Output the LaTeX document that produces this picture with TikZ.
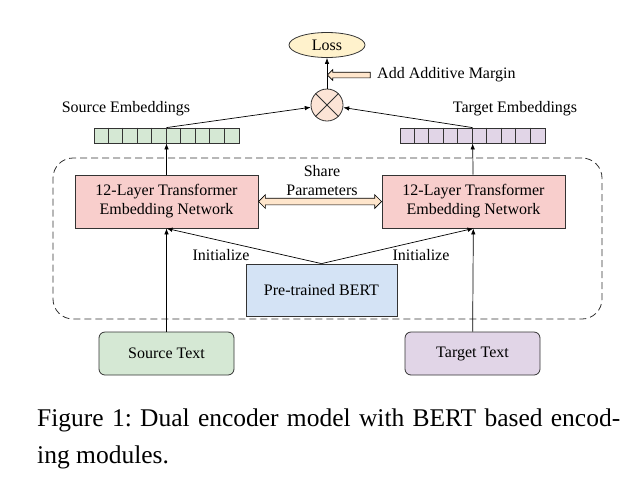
\documentclass[tikz,border=0pt]{standalone}
\usepackage{fontspec}
\setmainfont{Liberation Serif}
\usetikzlibrary{arrows.meta,shapes.geometric,shapes.arrows,calc}
\definecolor{cgreen}{HTML}{D5E8D4}
\definecolor{cpurple}{HTML}{E1D5E7}
\definecolor{cred}{HTML}{F8CECC}
\definecolor{cblue}{HTML}{D4E3F5}
\definecolor{cyellow}{HTML}{FFF2CC}
\definecolor{cpeach}{HTML}{FFE6CC}
\definecolor{ccirc}{HTML}{FCE4D6}
\definecolor{cline}{HTML}{333333}
\frenchspacing
\begin{document}
\begin{tikzpicture}[x=1pt,y=-1pt,
  every node/.style={font=\fontsize{16}{19}\selectfont},
  box/.style={draw=cline, line width=0.8pt, inner sep=0pt, align=center},
  arr/.style={-{Latex[length=6pt,width=4.5pt]}, line width=0.7pt, draw=black},
  fatarrow/.style={draw=black, line width=0.7pt, fill=cpeach, inner sep=0pt},
  lbl/.style={inner sep=0pt, align=center},
]
\useasboundingbox (0,0) rectangle (642,491);
% frame
\node[draw=cline, line width=0.8pt, dash pattern=on 7pt off 4pt, rounded corners=20pt,
  minimum width=549pt, minimum height=161pt, inner sep=0pt] (frame) at (327.5,238.5) {};
% top
\node[box, ellipse, fill=cyellow, minimum width=76pt, minimum height=25pt] (loss) at (327,45) {Loss};
\node[box, circle, fill=ccirc, minimum size=32pt] (circ) at (327,105) {};
\draw[cline, line width=0.8pt] (circ.north west) -- (circ.south east) (circ.north east) -- (circ.south west);
\node[lbl, anchor=west] (marg) at (377,75) {Add Additive Margin};
\coordinate (mstart) at (372,75);
\coordinate (mend) at (328.5,75);
% embeddings
\node[lbl] (slab) at (126,109) {Source Embeddings};
\node[lbl] (tlab) at (515,109) {Target Embeddings};
\node[box, fill=cgreen, minimum width=145pt, minimum height=15pt] (sbar) at (166.5,135.5) {};
\node[box, fill=cpurple, minimum width=145pt, minimum height=15pt] (tbar) at (472.5,135.5) {};
\foreach \i in {1,...,9}{
  \draw[cline, line width=0.8pt] ($(sbar.north west)+(\i*14.5,0)$) -- ($(sbar.south west)+(\i*14.5,0)$);
  \draw[cline, line width=0.8pt] ($(tbar.north west)+(\i*14.5,0)$) -- ($(tbar.south west)+(\i*14.5,0)$);
}
% encoders
\node[box, fill=cred, minimum width=183pt, minimum height=53pt] (sred) at (166.5,201.5) {12-Layer Transformer\\Embedding Network};
\node[box, fill=cred, minimum width=183pt, minimum height=53pt] (tred) at (473.5,201.5) {12-Layer Transformer\\Embedding Network};
\node[lbl] (share) at (322,181) {Share\\Parameters};
\node[box, fill=cblue, minimum width=151pt, minimum height=52pt] (bert) at (321.5,290) {Pre-trained BERT};
\node[lbl] (initl) at (221,255) {Initialize};
\node[lbl] (initr) at (421,255) {Initialize};
% inputs
\node[box, fill=cgreen, rounded corners=6pt, minimum width=135pt, minimum height=43pt] (stext) at (166.5,353.5) {Source Text};
\node[box, fill=cpurple, rounded corners=6pt, minimum width=135pt, minimum height=43pt] (ttext) at (472.5,353.5) {Target Text};
% connectors
\draw[arr] (stext) -- (sred);
\draw[arr] (ttext) -- (tred);
\draw[arr] (sred) -- (sbar);
\draw[arr] (tred) -- (tbar);
\draw[arr] (sbar.north) -- (circ);
\draw[arr] (tbar.north) -- (circ);
\draw[arr] (circ) -- (loss);
\draw[arr] (bert.north) -- (sred.south);
\draw[arr] (bert.north) -- (tred.south);
% fat hollow arrows
\node[fatarrow, double arrow, minimum height=123pt, minimum width=13pt, text height=6pt, text depth=0pt, text width=0pt,
  double arrow head extend=3.5pt] (sharr) at ($(sred.east)!0.5!(tred.west)$) {};
\node[fatarrow, single arrow, shape border rotate=180, minimum height=43pt, minimum width=10pt, text height=5pt, text depth=0pt, text width=0pt,
  single arrow head extend=2.5pt] (marr) at ($(mstart)!0.5!(mend)$) {};
% caption
\node[inner sep=0pt, anchor=base west, font=\fontsize{25.5}{37}\selectfont] (cap1) at (37,426)
  {\makebox[583pt][s]{Figure 1: Dual encoder model with BERT based encod-}};
\node[inner sep=0pt, anchor=base west, font=\fontsize{25.5}{37}\selectfont] (cap2) at (37,463) {ing modules.};
\end{tikzpicture}
\end{document}
